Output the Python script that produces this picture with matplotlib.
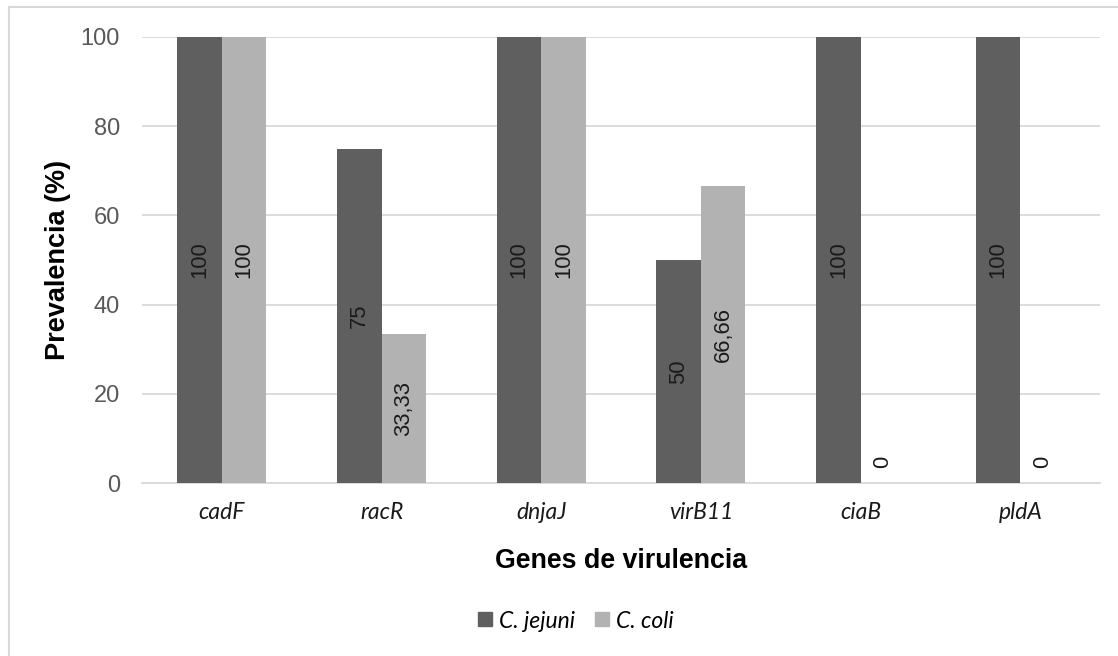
import numpy as np
import matplotlib.pyplot as plt
from matplotlib.lines import Line2D

# Datos
genes = ['cadF', 'racR', 'dnjaJ', 'virB11', 'ciaB', 'pldA']
jejuni = [100, 75, 100, 50, 100, 100]
coli = [100, 33.33, 100, 66.66, 0, 0]
etiq_jejuni = ['100', '75', '100', '50', '100', '100']
etiq_coli = ['100', '33,33', '100', '66,66', '0', '0']

cor_escura = '#5f5f5f'
cor_clara = '#b2b2b2'
cor_grade = '#d9d9d9'

fig = plt.figure(figsize=(11.18, 6.56), dpi=100)
graf = fig.add_axes([0.127, 0.2637, 0.857, 0.6799])

x = np.arange(len(genes))
larg = 0.278

b1 = graf.bar(x - larg / 2, jejuni, larg, color=cor_escura, zorder=3)
b2 = graf.bar(x + larg / 2, coli, larg, color=cor_clara, zorder=3)

# rótulos dos valores (rotacionados, no meio da barra)
for barras, etiq in ((b1, etiq_jejuni), (b2, etiq_coli)):
    for b, t in zip(barras, etiq):
        h = b.get_height()
        xc = b.get_x() + b.get_width() / 2
        if h > 0:
            graf.text(xc, h / 2, t, rotation=90, ha='center', va='center',
                      fontsize=15.8, color='#1a1a1a', family='Liberation Sans', zorder=4)
        else:
            graf.annotate(t, (xc, 0), xytext=(0, 11), textcoords='offset points',
                          rotation=90, ha='center', va='bottom',
                          fontsize=15.8, color='#1a1a1a', family='Liberation Sans')

graf.set_xlim(-0.5, len(genes) - 0.5)
graf.set_ylim(0, 100)
graf.set_yticks(np.arange(0, 101, 20))
graf.yaxis.grid(True, color=cor_grade, linewidth=1.3, zorder=0)
for lado in ['top', 'right', 'left']:
    graf.spines[lado].set_visible(False)
graf.spines['bottom'].set_color(cor_grade)
graf.spines['bottom'].set_linewidth(1.3)
graf.tick_params(axis='both', length=0)
graf.tick_params(axis='y', pad=16, labelcolor='#595959', labelsize=17)
for lab in graf.get_yticklabels():
    lab.set_family('Liberation Sans')

graf.set_xticks(x)
graf.set_xticklabels(genes, style='italic', family='Lato', fontsize=16.5, color='#1a1a1a')
graf.tick_params(axis='x', pad=14)

graf.set_ylabel('Prevalencia (%)', fontsize=19.5, fontweight='bold',
                family='Liberation Sans', va='center')
graf.yaxis.set_label_coords(-0.0877, 0.5)
graf.set_xlabel('Genes de virulencia', fontsize=19.3, fontweight='bold',
                family='Liberation Sans', va='center')
graf.xaxis.set_label_coords(0.5, -0.174)

# legenda
itens = [Line2D([], [], marker='s', linestyle='', markersize=10, color=cor_escura),
         Line2D([], [], marker='s', linestyle='', markersize=10, color=cor_clara)]
fig.legend(itens, ['C. jejuni', 'C. coli'], loc='center', ncol=2,
           bbox_to_anchor=(0.513, 1 - 621 / 656), frameon=False,
           prop={'family': 'Lato', 'style': 'italic', 'size': 16.5},
           handletextpad=0.1, columnspacing=0.7, handlelength=1.0)

# moldura (esquerda e topo)
fig.add_artist(Line2D([0.008, 0.008], [0, 0.989], transform=fig.transFigure,
                      color=cor_grade, linewidth=1.5))
fig.add_artist(Line2D([0.008, 1.0], [0.989, 0.989], transform=fig.transFigure,
                      color=cor_grade, linewidth=1.5))

fig.savefig('out.png', dpi=100)
